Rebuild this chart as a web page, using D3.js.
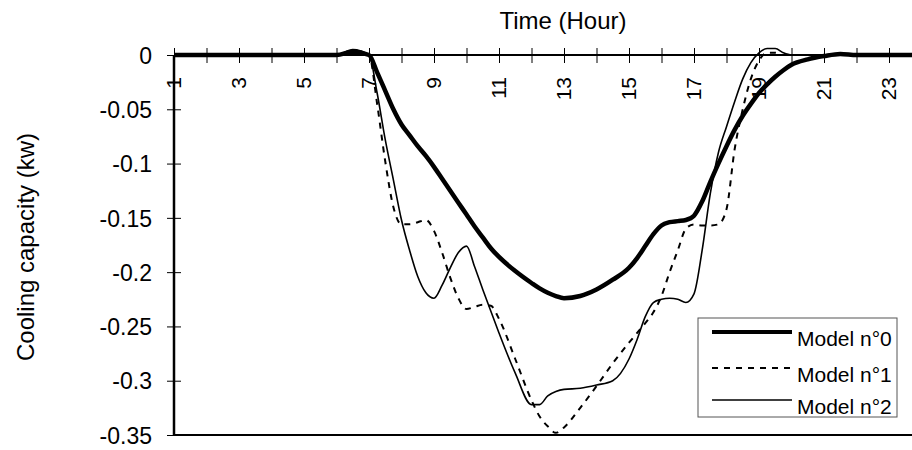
<!DOCTYPE html>
<html lang="en">
<head>
<meta charset="UTF-8">
<title>Cooling capacity - Time (Hour)</title>
<style>
  body { margin: 0; background: #fff; }
  svg text { font-family: "Liberation Sans", Arial, sans-serif; fill: #000; }
</style>
</head>
<body>
<svg id="chart"></svg>
<script src="https://cdnjs.cloudflare.com/ajax/libs/d3/7.8.5/d3.min.js"></script>
<script>
// sample hours
var hours = [1, 2, 3, 4, 5, 6, 6.5, 7, 7.25, 7.5, 7.75, 8, 8.25, 8.5, 8.75, 9, 9.25, 9.5, 9.75,
  10, 10.25, 10.5, 10.75, 11, 11.5, 12, 12.25, 12.5, 12.75, 13, 13.5, 14, 14.5, 15, 15.25,
  15.5, 15.75, 16, 16.25, 16.5, 16.75, 17, 17.25, 17.5, 17.75, 18, 18.25, 18.5, 18.75, 19,
  19.25, 19.5, 19.75, 20, 20.5, 21, 21.5, 22, 23, 24];

var model0 = [0, 0, 0, 0, 0, 0, 0.003, 0, -0.016, -0.033, -0.050, -0.064, -0.074, -0.084, -0.093,
  -0.103, -0.114, -0.125, -0.136, -0.147, -0.158, -0.168, -0.178, -0.186, -0.199, -0.210, -0.215,
  -0.219, -0.222, -0.224, -0.222, -0.216, -0.207, -0.196, -0.187, -0.176, -0.165, -0.157, -0.154,
  -0.153, -0.152, -0.148, -0.135, -0.117, -0.100, -0.084, -0.069, -0.056, -0.045, -0.035, -0.027,
  -0.020, -0.014, -0.009, -0.004, -0.001, 0.001, 0, 0, 0];

var model1 = [0, 0, 0, 0, 0, 0, 0.002, 0, -0.045, -0.098, -0.140, -0.156, -0.156, -0.154, -0.152,
  -0.162, -0.182, -0.205, -0.224, -0.234, -0.232, -0.230, -0.231, -0.243, -0.280, -0.318, -0.333,
  -0.342, -0.348, -0.343, -0.325, -0.305, -0.284, -0.265, -0.256, -0.247, -0.237, -0.222, -0.200,
  -0.180, -0.160, -0.156, -0.157, -0.157, -0.156, -0.142, -0.087, -0.050, -0.022, -0.005, 0.002,
  0.002, 0, 0, 0, 0, 0, 0, 0, 0];

var model2 = [0, 0, 0, 0, 0, 0, 0.005, 0, -0.035, -0.078, -0.115, -0.152, -0.180, -0.204, -0.219,
  -0.224, -0.212, -0.196, -0.182, -0.176, -0.195, -0.216, -0.236, -0.256, -0.293, -0.322, -0.322,
  -0.314, -0.310, -0.308, -0.307, -0.304, -0.300, -0.280, -0.262, -0.241, -0.228, -0.225, -0.224,
  -0.225, -0.228, -0.220, -0.180, -0.128, -0.090, -0.066, -0.043, -0.022, -0.007, 0.002, 0.006,
  0.006, 0.002, 0, 0, 0, 0, 0, 0, 0];

var seriesNames = ["Model n°0", "Model n°1", "Model n°2"];
var xTickLabels = [1, 3, 5, 7, 9, 11, 13, 15, 17, 19, 21, 23];
var yTickValues = [0, -0.05, -0.1, -0.15, -0.2, -0.25, -0.3, -0.35];

var width = 912, height = 450;
var plotLeft = 174, plotTop = 55, plotBottom = 435;

var svg = d3.select("#chart").attr("width", width).attr("height", height);

var x = d3.scaleLinear().domain([1, 24]).range([plotLeft, plotLeft + 23 * 32.5]);
var y = d3.scaleLinear().domain([-0.35, 0]).range([plotBottom, plotTop]);

// bottom border of plot area
svg.append("line")
  .attr("x1", plotLeft).attr("x2", width)
  .attr("y1", plotBottom).attr("y2", plotBottom)
  .attr("stroke", "#000").attr("stroke-width", 2);

// y axis (cross ticks)
var yAxis = svg.append("g").attr("transform", "translate(" + plotLeft + ",0)")
  .call(d3.axisLeft(y).tickValues(yTickValues).tickSize(0)
    .tickFormat(function(d) { return String(d); }));
yAxis.select(".domain").remove();
yAxis.append("line").attr("y1", plotTop).attr("y2", plotBottom)
  .attr("stroke", "#000").attr("stroke-width", 2.5);
yAxis.selectAll(".tick line").attr("x1", -7).attr("x2", 7)
  .attr("stroke", "#000").attr("stroke-width", 1);
yAxis.selectAll(".tick text")
  .attr("x", -22).attr("dy", "0.36em")
  .style("font-size", "23px").style("font-family", "Liberation Sans, Arial, sans-serif");

// x axis at y = 0 (cross ticks every hour)
var xAxis = svg.append("g").attr("transform", "translate(0," + y(0) + ")")
  .call(d3.axisBottom(x).tickValues(d3.range(1, 25)).tickSize(0).tickFormat(""));
xAxis.select(".domain").remove();
xAxis.append("line").attr("x1", plotLeft).attr("x2", width)
  .attr("stroke", "#000").attr("stroke-width", 2);
xAxis.selectAll(".tick line").attr("y1", -7).attr("y2", 8)
  .attr("stroke", "#000").attr("stroke-width", 1);

svg.append("g").selectAll("text")
  .data(xTickLabels)
  .enter().append("text")
  .attr("transform", function(d) { return "translate(" + (x(d) - 1) + "," + (y(0) + 22) + ") rotate(-90)"; })
  .attr("text-anchor", "end")
  .attr("dy", "0.36em")
  .style("font-size", "21px")
  .text(function(d) { return d; });

// curves
var line = d3.line()
  .x(function(d) { return x(d[0]); })
  .y(function(d) { return y(d[1]); })
  .curve(d3.curveMonotoneX);

var styles = [
  { w: 4.5, dash: null },
  { w: 2, dash: "6,6" },
  { w: 1.6, dash: null }
];
var allSeries = [model0, model1, model2];

svg.append("defs").append("clipPath").attr("id", "plot")
  .append("rect").attr("x", plotLeft).attr("y", 0).attr("width", width - plotLeft).attr("height", plotBottom);

var curves = svg.append("g").attr("clip-path", "url(#plot)");
[2, 1, 0].forEach(function(i) {
  curves.append("path")
    .datum(hours.map(function(h, j) { return [h, allSeries[i][j]]; }))
    .attr("d", line)
    .attr("fill", "none")
    .attr("stroke", "#000")
    .attr("stroke-width", styles[i].w)
    .attr("stroke-dasharray", styles[i].dash)
    .attr("stroke-linejoin", "round");
});

// axis titles
svg.append("text")
  .attr("x", 563).attr("y", 29)
  .attr("text-anchor", "middle")
  .style("font-size", "24px")
  .text("Time (Hour)");

svg.append("text")
  .attr("transform", "translate(34,247) rotate(-90)")
  .attr("text-anchor", "middle")
  .style("font-size", "24px")
  .text("Cooling capacity (kw)");

// legend
var legend = svg.append("g").attr("transform", "translate(698,318)");
legend.append("rect")
  .attr("width", 199).attr("height", 99)
  .attr("fill", "#fff").attr("stroke", "#555").attr("stroke-width", 1);

var rowY = [14, 50, 82];
seriesNames.forEach(function(name, i) {
  legend.append("line")
    .attr("x1", 14).attr("x2", 94)
    .attr("y1", rowY[i]).attr("y2", rowY[i])
    .attr("stroke", "#000")
    .attr("stroke-width", styles[i].w - (i === 0 ? 0.5 : 0))
    .attr("stroke-dasharray", styles[i].dash);
  legend.append("text")
    .attr("x", 99).attr("y", rowY[i] + 14)
    .style("font-size", "21px")
    .text(name);
});
</script>
</body>
</html>
